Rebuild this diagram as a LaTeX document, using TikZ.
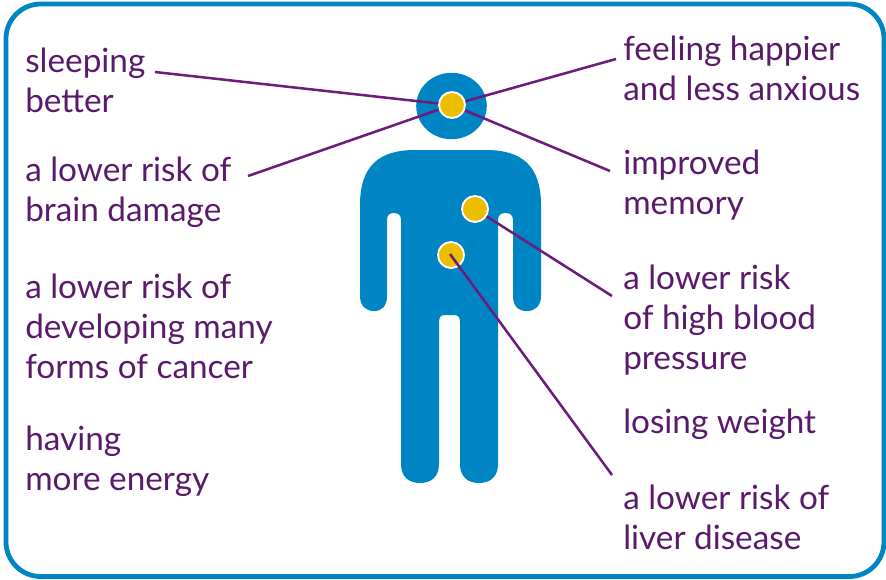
\documentclass[tikz,border=0pt]{standalone}
\usepackage{fontspec}
\setmainfont{Lato}
\definecolor{bodyblue}{HTML}{0085C4}
\definecolor{dotyellow}{HTML}{EDBE00}
\definecolor{purp}{HTML}{6C1D7C}
\definecolor{txt}{HTML}{5A1A6B}
\tikzset{
 lbl/.style={text=txt,font=\fontsize{25}{30}\selectfont,inner sep=0pt,align=left,anchor=north west},
 dotn/.style={circle,fill=dotyellow,draw=white,line width=1.4pt,minimum size=19.5pt,inner sep=0pt},
 conn/.style={draw=purp,line width=1.9pt},
}
\begin{document}
\begin{tikzpicture}[x=0.75pt,y=-0.75pt]
\useasboundingbox (0,0) rectangle (886,579);
\draw[bodyblue,line width=3.6pt,rounded corners=26pt] (6,4) rectangle (884,576.5);
% figure
\fill[bodyblue] (451.5,106) ellipse[x radius=35.3,y radius=33.2];
\fill[bodyblue]
 (360,205) .. controls (360,165) and (380,150) .. (415,150) -- (486,150)
 .. controls (521,150) and (541,165) .. (541,205) -- (541,296)
 .. controls (541,306) and (535,311) .. (527,311) .. controls (518,311) and (513,306) .. (513,296)
 -- (513,220) .. controls (513,215) and (510,213) .. (505.5,213) .. controls (501,213) and (498,215) .. (498,220)
 -- (498,464) .. controls (498,477) and (490,483) .. (479,483) .. controls (468,483) and (460,477) .. (460,464)
 -- (460,322) .. controls (460,317) and (458,315) .. (454,315) -- (445,315) .. controls (441,315) and (439,317) .. (439,322)
 -- (439,464) .. controls (439,477) and (431,483) .. (420,483) .. controls (409,483) and (401,477) .. (401,464)
 -- (401,220) .. controls (401,215) and (398,213) .. (394,213) .. controls (389.5,213) and (387,215) .. (387,220)
 -- (387,296) .. controls (387,306) and (382,311) .. (374,311) .. controls (366,311) and (360,306) .. (360,296) -- cycle;
% labels
\node[lbl] (sleep) at (25,48) {sleeping\\better};
\node[lbl] (brain) at (25,157) {a lower risk of\\brain damage};
\node[lbl] (cancer) at (25,274) {a lower risk of\\developing many\\forms of cancer};
\node[lbl] (energy) at (25,426) {having\\more energy};
\node[lbl] (happy) at (623,36) {feeling happier\\and less anxious};
\node[lbl] (memory) at (623,150) {improved\\memory};
\node[lbl] (blood) at (623,265) {a lower risk\\of high blood\\pressure};
\node[lbl] (weight) at (623,409) {losing weight};
\node[lbl] (liver) at (623,485) {a lower risk of\\liver disease};
% connector ends
\coordinate (c1) at (155,72);
\coordinate (c2) at (248,176);
\coordinate (c3) at (616,59);
\coordinate (c4) at (610,171);
\coordinate (c5) at (612,296);
\coordinate (c6) at (612,475);
\coordinate (headc) at (452,105);
\coordinate (liverc) at (450,254);
\draw[conn] (c1) -- (headc);
\draw[conn] (c2) -- (headc);
\draw[conn] (c3) -- (headc);
\draw[conn] (c4) -- (headc);
\node[dotn] (dhead) at (headc) {};
\node[dotn] (dheart) at (475,209) {};
\node[dotn] (dliver) at (451,255) {};
\draw[conn] (c5) -- (dheart);
\draw[conn] (c6) -- (liverc);
\end{tikzpicture}
\end{document}
